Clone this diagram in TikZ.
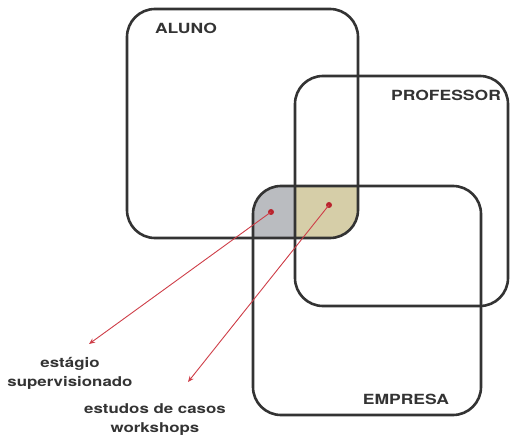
\documentclass[tikz,border=0pt]{standalone}
\usepackage{fontspec}
\setmainfont[FakeStretch=1.25]{TeX Gyre Heros}
\definecolor{boxline}{RGB}{51,51,51}
\definecolor{redline}{RGB}{206,62,72}
\definecolor{reddot}{RGB}{185,35,45}
\definecolor{grayfill}{RGB}{186,188,192}
\definecolor{tanfill}{RGB}{214,206,168}
\tikzset{
  box/.style={draw=boxline, line width=2.6pt, rounded corners=28pt},
  title/.style={font=\fontsize{14}{16}\selectfont\bfseries, text=boxline},
  caption/.style={font=\fontsize{13.5}{19}\selectfont\bfseries, text=boxline, align=center},
  pointer/.style={draw=redline, line width=0.9pt, -{Stealth[length=6pt,width=5pt]}},
  dot/.style={circle, fill=reddot, inner sep=0pt, minimum size=6pt}
}
\usetikzlibrary{arrows.meta}
\begin{document}
\begin{tikzpicture}[x=1pt, y=-1pt]
  \useasboundingbox (0,0) rectangle (512,441);
  % shaded overlaps
  \begin{scope}
    \clip[rounded corners=28pt] (127,9) rectangle (358,238);
    \fill[grayfill, rounded corners=28pt] (253,186) rectangle (481,415);
    \clip[rounded corners=28pt] (295,76) rectangle (508,306);
    \fill[tanfill] (253,186) rectangle (481,415);
  \end{scope}
  % the three sets
  \draw[box] (127,9) rectangle (358,238);
  \draw[box] (295,76) rectangle (508,306);
  \draw[box] (253,186) rectangle (481,415);
  \node[title] (aluno) at (186,28) {ALUNO};
  \node[title] (professor) at (446,95) {PROFESSOR};
  \node[title] (empresa) at (406,399) {EMPRESA};
  % pointers
  \node[dot] (dotA) at (271,212) {};
  \node[dot] (dotB) at (329,205) {};
  \coordinate (tipA) at (89,344);
  \coordinate (tipB) at (188,382);
  \draw[pointer] (dotA.center) -- (tipA);
  \draw[pointer] (dotB.center) -- (tipB);
  \node[caption] (estagio) at (70,373) {estágio\\supervisionado};
  \node[caption] (estudos) at (155,420) {estudos de casos\\workshops};
\end{tikzpicture}
\end{document}
